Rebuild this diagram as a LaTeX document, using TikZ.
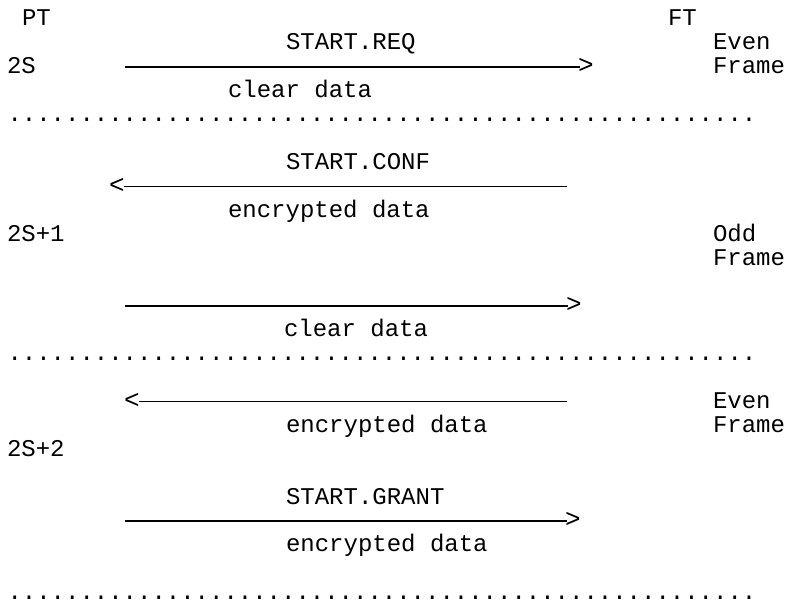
\documentclass[tikz,border=0pt]{standalone}
\usepackage{fontspec}
\setmonofont{Liberation Mono}
\begin{document}
\begin{tikzpicture}[x=1pt,y=-23.9pt,
  every node/.style={inner sep=0pt,outer sep=0pt,font=\ttfamily\fontsize{24}{24}\selectfont},
  txt/.style={anchor=base west},
  head/.style={anchor=base west,font=\ttfamily\fontsize{26}{26}\selectfont},
  shaft/.style={line width=1.7pt}]
\useasboundingbox (0pt,0pt) rectangle (786pt,-604pt);
\begin{scope}[yshift=-2.1pt]
% header
\node[txt] (pt) at (22,1) {PT};
\node[txt] (ft) at (668,1) {FT};
% frame 2S
\node[txt] (req) at (286,2) {START.REQ};
\node[txt] (even1) at (713,2) {Even};
\node[txt] (s2) at (7,3) {2S};
\node[txt] (frame1) at (713,3) {Frame};
\node[head] (h1) at (578,3) {>};
\coordinate (a1) at (125,2.71);
\draw[shaft,shorten >=-2pt] (a1) -- (a1 -| h1.west);
\node[txt] (cd1) at (228,4) {clear data};
\node[txt] (dots1) at (7.5,5) {....................................................};
% frame 2S+1
\node[txt] (conf) at (286,7) {START.CONF};
\node[head] (h2) at (109,8) {<};
\coordinate (a2) at (567,7.71);
\draw[shaft,shorten >=-1pt] (a2) -- (a2 -| h2.east);
\node[txt] (ed1) at (228,9) {encrypted data};
\node[txt] (s21) at (7,10) {2S+1};
\node[txt] (odd) at (713,10) {Odd};
\node[txt] (frame2) at (713,11) {Frame};
\node[head] (h3) at (566,13) {>};
\coordinate (a3) at (125,12.71);
\draw[shaft,shorten >=-2pt] (a3) -- (a3 -| h3.west);
\node[txt] (cd2) at (284,14) {clear data};
\node[txt] (dots2) at (7.5,15) {....................................................};
% frame 2S+2
\node[head] (h4) at (124,17) {<};
\coordinate (a4) at (567,16.71);
\draw[shaft,shorten >=-1pt] (a4) -- (a4 -| h4.east);
\node[txt] (even2) at (713,17) {Even};
\node[txt] (ed2) at (286,18) {encrypted data};
\node[txt] (frame3) at (713,18) {Frame};
\node[txt] (s22) at (7,19) {2S+2};
\node[txt] (grant) at (286,21) {START.GRANT};
\node[head] (h5) at (565,22) {>};
\coordinate (a5) at (125,21.71);
\draw[shaft,shorten >=-2pt] (a5) -- (a5 -| h5.west);
\node[txt] (ed3) at (286,23) {encrypted data};
\node[txt] (dots3) at (7.5,25) {....................................................};
\end{scope}
\end{tikzpicture}
\end{document}
